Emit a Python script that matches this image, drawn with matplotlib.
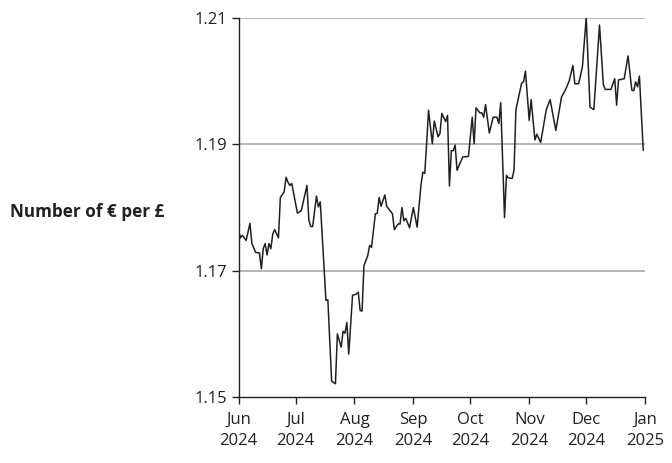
import matplotlib
matplotlib.use("Agg")
import matplotlib.pyplot as plt
import pandas as pd

dates = [
    "2024-06-01", "2024-06-02", "2024-06-03", "2024-06-05", "2024-06-07", "2024-06-08",
    "2024-06-10", "2024-06-12", "2024-06-13", "2024-06-14", "2024-06-15", "2024-06-16",
    "2024-06-17", "2024-06-18", "2024-06-19", "2024-06-20", "2024-06-22", "2024-06-23",
    "2024-06-25", "2024-06-26", "2024-06-27", "2024-06-28", "2024-06-29",
    "2024-07-02", "2024-07-04", "2024-07-07", "2024-07-08", "2024-07-09", "2024-07-10",
    "2024-07-12", "2024-07-13", "2024-07-14", "2024-07-17", "2024-07-18", "2024-07-20",
    "2024-07-22", "2024-07-23", "2024-07-25", "2024-07-26", "2024-07-27", "2024-07-28",
    "2024-07-29", "2024-07-31",
    "2024-08-02", "2024-08-03", "2024-08-04", "2024-08-05", "2024-08-06", "2024-08-08",
    "2024-08-09", "2024-08-10", "2024-08-12", "2024-08-13", "2024-08-14", "2024-08-15",
    "2024-08-17", "2024-08-18", "2024-08-21", "2024-08-22", "2024-08-24", "2024-08-25",
    "2024-08-26", "2024-08-27", "2024-08-28", "2024-08-30",
    "2024-09-01", "2024-09-03", "2024-09-05", "2024-09-06", "2024-09-07", "2024-09-08",
    "2024-09-09", "2024-09-11", "2024-09-12", "2024-09-14", "2024-09-15", "2024-09-16",
    "2024-09-18", "2024-09-19", "2024-09-20", "2024-09-21", "2024-09-22", "2024-09-23",
    "2024-09-24", "2024-09-26", "2024-09-27", "2024-09-30",
    "2024-10-02", "2024-10-03", "2024-10-04", "2024-10-06", "2024-10-07", "2024-10-08",
    "2024-10-09", "2024-10-11", "2024-10-13", "2024-10-15", "2024-10-16", "2024-10-17",
    "2024-10-19", "2024-10-20", "2024-10-21", "2024-10-23", "2024-10-24", "2024-10-25",
    "2024-10-28", "2024-10-29", "2024-10-30",
    "2024-11-01", "2024-11-02", "2024-11-04", "2024-11-05", "2024-11-07", "2024-11-10",
    "2024-11-12", "2024-11-15", "2024-11-18", "2024-11-20", "2024-11-22", "2024-11-24",
    "2024-11-25", "2024-11-27", "2024-11-29",
    "2024-12-01", "2024-12-03", "2024-12-05", "2024-12-08", "2024-12-10", "2024-12-11",
    "2024-12-14", "2024-12-16", "2024-12-17", "2024-12-18", "2024-12-21", "2024-12-23",
    "2024-12-25", "2024-12-26", "2024-12-27", "2024-12-28", "2024-12-29", "2024-12-31",
]

eur_per_gbp = [
    1.1764, 1.1752, 1.1756, 1.1748, 1.1775, 1.1743,
    1.1729, 1.1728, 1.1703, 1.1735, 1.1743, 1.1725,
    1.1743, 1.1735, 1.1758, 1.1765, 1.1752, 1.1816,
    1.1825, 1.1848, 1.1840, 1.1835, 1.1838,
    1.1791, 1.1795, 1.1835, 1.1780, 1.1770, 1.1770,
    1.1818, 1.1801, 1.1809, 1.1653, 1.1654, 1.1525,
    1.1521, 1.1600, 1.1579, 1.1604, 1.1601, 1.1618,
    1.1568, 1.1661,
    1.1663, 1.1666, 1.1637, 1.1636, 1.1708, 1.1724,
    1.1740, 1.1737, 1.1790, 1.1791, 1.1816, 1.1802,
    1.1820, 1.1802, 1.1790, 1.1765, 1.1774, 1.1774,
    1.1800, 1.1779, 1.1783, 1.1768,
    1.1800, 1.1769, 1.1835, 1.1856, 1.1854, 1.1901,
    1.1954, 1.1901, 1.1937, 1.1912, 1.1917, 1.1949,
    1.1936, 1.1946, 1.1834, 1.1890, 1.1890, 1.1899,
    1.1859, 1.1873, 1.1880, 1.1881,
    1.1943, 1.1901, 1.1958, 1.1950, 1.1950, 1.1943,
    1.1963, 1.1918, 1.1943, 1.1943, 1.1933, 1.1966,
    1.1784, 1.1851, 1.1847, 1.1846, 1.1859, 1.1955,
    1.1997, 1.1999, 1.2016,
    1.1938, 1.1971, 1.1907, 1.1916, 1.1903, 1.1955,
    1.1971, 1.1922, 1.1975, 1.1986, 1.2000, 1.2025,
    1.1996, 1.1996, 1.2023,
    1.2101, 1.1959, 1.1955, 1.2089, 1.1995, 1.1987,
    1.1987, 1.2004, 1.1962, 1.2002, 1.2004, 1.2040,
    1.1986, 1.1985, 1.1999, 1.1991, 1.2008, 1.1891,
]

tick_dates = ["2024-06-01", "2024-07-01", "2024-08-01", "2024-09-01",
              "2024-10-01", "2024-11-01", "2024-12-01", "2025-01-01"]
tick_labels = ["Jun\n2024", "Jul\n2024", "Aug\n2024", "Sep\n2024",
               "Oct\n2024", "Nov\n2024", "Dec\n2024", "Jan\n2025"]
y_ticks = [1.15, 1.17, 1.19, 1.21]
y_label = "Number of € per £"

plt.rcParams["font.family"] = ["Open Sans", "DejaVu Sans"]
text_color = "#231f20"

fig = plt.figure(figsize=(6.72, 4.63), dpi=100)
ax = fig.add_axes([0.355, 0.1425, 0.605, 0.8185])

x = pd.to_datetime(dates)
ax.plot(x, eur_per_gbp, color=text_color, lw=1.1, zorder=3)

ax.set_xlim(pd.Timestamp(tick_dates[0]), pd.Timestamp(tick_dates[-1]))
ax.set_ylim(1.15, 1.21)
ax.set_yticks(y_ticks)
ax.set_yticklabels([f"{v:.2f}" for v in y_ticks])
ax.set_xticks(pd.to_datetime(tick_dates))
ax.set_xticklabels(tick_labels, linespacing=1.35)

for v in y_ticks[1:]:
    ax.axhline(v, color="#b5b5b5", lw=1.4, zorder=1)

for s in ["top", "right"]:
    ax.spines[s].set_visible(False)
for s in ["left", "bottom"]:
    ax.spines[s].set_color(text_color)
    ax.spines[s].set_linewidth(1.0)

ax.tick_params(axis="both", direction="out", length=5, width=1.0,
               color=text_color, labelcolor=text_color, labelsize=12)
ax.tick_params(axis="x", pad=6)
ax.tick_params(axis="y", pad=3)

fig.text(10 / 672, 1 - 212 / 463, y_label, ha="left", va="center",
         fontsize=12.3, fontweight="bold", color=text_color)

fig.savefig("out.png", dpi=100)
